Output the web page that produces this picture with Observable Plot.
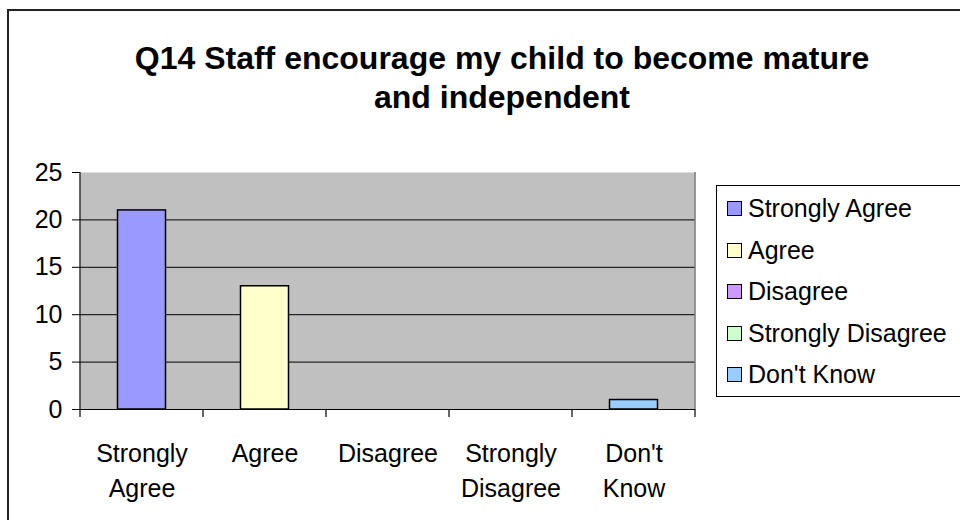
<!DOCTYPE html>
<html>
<head>
<meta charset="utf-8">
<script src="https://cdn.jsdelivr.net/npm/d3@7"></script>
<script src="https://cdn.jsdelivr.net/npm/@observablehq/plot@0.6"></script>
<style>
  html, body { margin: 0; padding: 0; background: #fff; overflow: hidden; }
  #wrap { position: relative; width: 960px; height: 520px; overflow: hidden; font-family: "Liberation Sans", Arial, sans-serif; color: #000; }
  #border { position: absolute; left: 7px; top: 9px; right: -20px; bottom: -20px; border: 2px solid #222; box-sizing: border-box; }
  #title { position: absolute; left: 0; top: 39px; width: 1004px; text-align: center; font-weight: bold; font-size: 32px; line-height: 39px; white-space: nowrap; }
  #chart { position: absolute; left: 0; top: 0; }
  #legend { position: absolute; left: 716px; top: 185px; right: -20px; height: 212px; border-top: 1px solid #000; border-left: 1px solid #000; border-bottom: 1px solid #000; box-sizing: border-box; padding-top: 2px; background: #fff; }
  .row { height: 41.5px; display: flex; align-items: center; font-size: 25px; white-space: nowrap; }
  .sw { width: 15px; height: 15px; border: 1.5px solid #000; box-sizing: border-box; margin-left: 10px; margin-right: 6px; flex: none; }
</style>
</head>
<body>
<div id="wrap">
  <div id="border"></div>
  <div id="chart"></div>
  <div id="title">Q14 Staff encourage my child to become mature<br>and independent</div>
  <div id="legend"></div>
</div>
<script>
const categories = ["Strongly Agree", "Agree", "Disagree", "Strongly Disagree", "Don't Know"];
const values = [21, 13, 0, 0, 1];
const colors = ["#9999FF", "#FFFFCC", "#CC99FF", "#CCFFCC", "#99CCFF"];
const yTicks = [0, 5, 10, 15, 20, 25];
const xLabels = ["Strongly\nAgree", "Agree", "Disagree", "Strongly\nDisagree", "Don't\nKnow"];

const data = categories.map((c, i) => ({category: c, value: values[i]}));

const chart = Plot.plot({
  width: 960,
  height: 520,
  marginTop: 172,
  marginBottom: 111,
  marginLeft: 80,
  marginRight: 265,
  style: {fontFamily: "'Liberation Sans', Arial, sans-serif", fontSize: "25px", color: "black", background: "transparent", overflow: "visible"},
  x: {domain: categories, padding: 0, label: null},
  y: {domain: [0, 25], label: null},
  color: {domain: categories, range: colors},
  marks: [
    Plot.frame({fill: "#C0C0C0", stroke: null}),
    Plot.gridY(yTicks.filter(t => t > 0 && t < 25), {stroke: "black", strokeOpacity: 1}),
    Plot.barY(data.filter(d => d.value > 0), {x: "category", y: "value", fill: "category", stroke: "black", strokeWidth: 1.5, insetLeft: 37.5, insetRight: 37.5}),
    Plot.ruleY([0], {stroke: "black", strokeWidth: 1.2}),
    Plot.axisY({ticks: yTicks, tickSize: 8, tickPadding: 10, fontSize: 25, label: null, stroke: "black"}),
    Plot.axisX({tickSize: 0, tickPadding: 28, fontSize: 25, lineHeight: 1.4, label: null,
      tickFormat: d => xLabels[categories.indexOf(d)]})
  ]
});
document.getElementById("chart").appendChild(chart);

// band-edge ticks and axis/frame edge lines, derived from Plot's scales
const xs = chart.scale("x");
const ys = chart.scale("y");
const bw = xs.bandwidth;
const edges = categories.map(c => xs.apply(c));
edges.push(edges[edges.length - 1] + bw);
const y0 = ys.apply(0);
const yTop = ys.apply(25);
const svg = d3.select(chart);
const g = svg.append("g");
g.selectAll("line.xt").data(edges).join("line")
  .attr("x1", d => d).attr("x2", d => d)
  .attr("y1", y0).attr("y2", y0 + 8)
  .attr("stroke", "black").attr("stroke-width", 1.2);
g.append("line").attr("x1", edges[0]).attr("x2", edges[0]).attr("y1", yTop).attr("y2", y0)
  .attr("stroke", "black").attr("stroke-width", 1.2);
g.append("line").attr("x1", edges[edges.length - 1]).attr("x2", edges[edges.length - 1]).attr("y1", yTop).attr("y2", y0)
  .attr("stroke", "#808080").attr("stroke-width", 1.5);

// legend
const legend = d3.select("#legend");
categories.forEach((c, i) => {
  const row = legend.append("div").attr("class", "row");
  row.append("div").attr("class", "sw").style("background", colors[i]);
  row.append("span").text(c);
});
</script>
</body>
</html>
